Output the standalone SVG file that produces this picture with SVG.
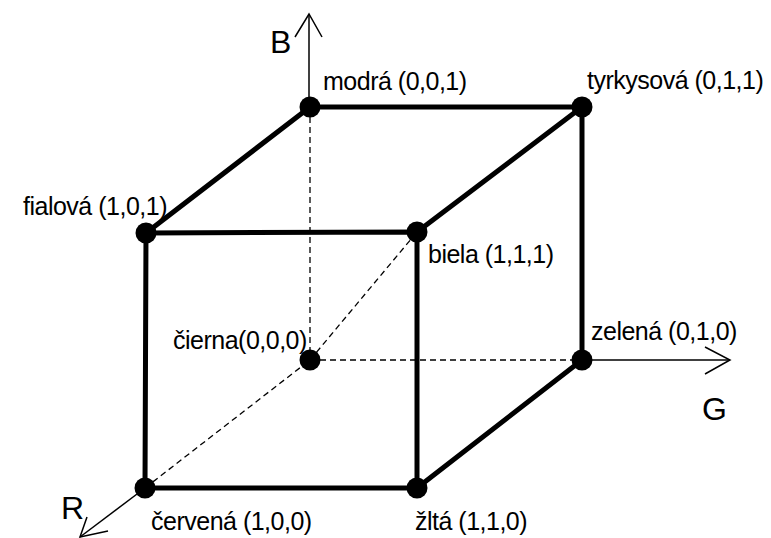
<svg xmlns="http://www.w3.org/2000/svg" width="771" height="538" viewBox="0 0 771 538">
  <style>
    .edge { stroke: #000; stroke-width: 5; fill: none; stroke-linecap: round; }
    .hidden { stroke: #000; stroke-width: 1.3; fill: none; stroke-dasharray: 6 4; }
    .axis { stroke: #000; stroke-width: 1.5; fill: none; }
    .dot { fill: #000; }
    .lbl { font-family: "Liberation Sans", Arial, sans-serif; font-size: 25px; fill: #000; letter-spacing: -0.5px; }
    .ax { font-family: "Liberation Sans", Arial, sans-serif; font-size: 32px; fill: #000; }
  </style>
  <rect width="771" height="538" fill="#fff"/>
  <g id="connectors">
    <line class="hidden" x1="310" y1="107" x2="310" y2="360"/>
    <line class="hidden" x1="310" y1="360" x2="582" y2="360"/>
    <line class="hidden" x1="145" y1="488" x2="310" y2="360"/>
    <line class="hidden" x1="310" y1="360" x2="417" y2="232"/>
    <polyline class="axis" points="309,107 309,14"/>
    <polyline class="axis" points="295,37 309,14 322,37"/>
    <polyline class="axis" points="582,360 730,360"/>
    <polyline class="axis" points="705,347 730,360 705,374"/>
    <polyline class="axis" points="145,488 80,537"/>
    <polyline class="axis" points="87,517 80,537 108,531"/>
    <polygon class="edge" points="146,233 417,232 417,488 145,488"/>
    <line class="edge" x1="310" y1="107" x2="582" y2="107"/>
    <line class="edge" x1="146" y1="233" x2="310" y2="107"/>
    <line class="edge" x1="417" y1="232" x2="582" y2="107"/>
    <line class="edge" x1="582" y1="107" x2="582" y2="360"/>
    <line class="edge" x1="417" y1="488" x2="582" y2="360"/>
  </g>
  <g id="axis-labels">
    <text class="ax" x="270" y="53">B</text>
    <text class="ax" x="702" y="420">G</text>
    <text class="ax" x="61" y="519">R</text>
  </g>
  <g id="modra"><circle class="dot" cx="310" cy="107" r="10.5"/><text class="lbl" x="323" y="90">modrá (0,0,1)</text></g>
  <g id="tyrkysova"><circle class="dot" cx="582" cy="107" r="10.5"/><text class="lbl" x="587" y="89">tyrkysová (0,1,1)</text></g>
  <g id="fialova"><circle class="dot" cx="146" cy="233" r="10.5"/><text class="lbl" x="23" y="215">fialová (1,0,1)</text></g>
  <g id="biela"><circle class="dot" cx="417" cy="232" r="10.5"/><text class="lbl" x="428" y="263">biela (1,1,1)</text></g>
  <g id="cierna"><circle class="dot" cx="310" cy="360" r="10.5"/><text class="lbl" x="173" y="349">čierna(0,0,0)</text></g>
  <g id="zelena"><circle class="dot" cx="582" cy="360" r="10.5"/><text class="lbl" x="591" y="340">zelená (0,1,0)</text></g>
  <g id="cervena"><circle class="dot" cx="145" cy="488" r="10.5"/><text class="lbl" x="151" y="530">červená (1,0,0)</text></g>
  <g id="zlta"><circle class="dot" cx="417" cy="488" r="10.5"/><text class="lbl" x="415" y="530">žltá (1,1,0)</text></g>
</svg>
